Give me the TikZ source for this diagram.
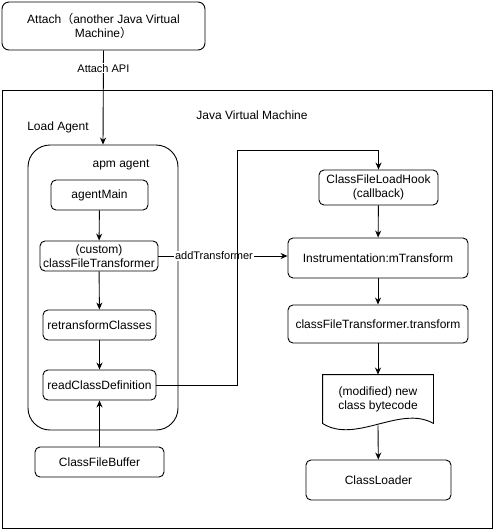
\documentclass[tikz,border=0pt]{standalone}
\usepackage{fontspec}
\setmainfont{Liberation Sans}
\newfontfamily\cjk{Noto Sans CJK SC}
\usetikzlibrary{arrows.meta}

\begin{document}
\begin{tikzpicture}[x=1pt, y=-1pt, line width=0.9pt, >={Stealth[length=7pt,width=6pt]},
	box/.style={draw, rounded corners=5pt, align=center, inner sep=1pt, font=\fontsize{12}{14}\selectfont},
	txt/.style={inner sep=1pt, align=center, font=\fontsize{12}{14}\selectfont},
	lbl/.style={fill=white, inner sep=1pt, font=\fontsize{11}{13}\selectfont}]
	\useasboundingbox (0,0) rectangle (494,530);
	% maquina que fa l'attach
	\node[box, rounded corners=7pt, minimum width=203pt, minimum height=48pt] (attach) at (103.5,26) {Attach{\cjk （}another Java Virtual\\Machine{\cjk ）}};
	% JVM
	\node[draw, sharp corners, minimum width=490pt, minimum height=438pt] (jvm) at (247,309) {};
	\node[txt] (jvmlbl) at (252,115) {Java Virtual Machine};
	\node[txt] (loadlbl) at (58,127) {Load Agent};
	% apm agent
	\node[draw, rounded corners=22pt, minimum width=150pt, minimum height=285pt] (agent) at (103,287.5) {};
	\node[txt] (agentlbl) at (121,165) {apm agent};
	\node[box, minimum width=97pt, minimum height=30pt] (main) at (99.5,195) {agentMain};
	\node[box, minimum width=118pt, minimum height=30pt] (cft) at (99,256) {(custom)\\classFileTransformer};
	\node[box, minimum width=113pt, minimum height=30pt] (retrans) at (99.5,325) {retransformClasses};
	\node[box, minimum width=113pt, minimum height=30pt] (rcd) at (99.5,385) {readClassDefinition};
	\node[box, minimum width=129pt, minimum height=30pt] (buffer) at (99.5,462) {ClassFileBuffer};
	% costat dret
	\node[box, minimum width=119pt, minimum height=35pt] (hook) at (378.5,187.5) {ClassFileLoadHook\\(callback)};
	\node[box, minimum width=180pt, minimum height=40pt] (instr) at (378,258) {Instrumentation:mTransform};
	\node[box, minimum width=180pt, minimum height=38pt] (transform) at (378,324) {classFileTransformer.transform};
	\node[txt, minimum width=110pt, minimum height=48pt] (bytecode) at (378,399) {(modified) new\\class bytecode};
	\draw (bytecode.north west) -- (bytecode.north east) -- (bytecode.south east)
		.. controls +(-33,-19) and +(33,21) .. (bytecode.south west) -- cycle;
	\node[box, minimum width=145pt, minimum height=40pt] (loader) at (378.5,480) {ClassLoader};
	% fletxes
	\draw[->] (attach.south) -- node[lbl, pos=0.19] {Attach API} (agent.north);
	\draw[->] (main) -- (cft);
	\draw[->] (cft) -- (retrans);
	\draw[->] (retrans) -- (rcd);
	\draw[->] (buffer) -- (rcd);
	\draw[->] (cft.east) -- node[lbl, pos=0.43] {addTransformer} (cft.east -| instr.west);
	\coordinate (bend) at (237,150);
	\draw[->] (rcd.east) -| (bend) -| (hook.north);
	\draw[->] (hook) -- (instr);
	\draw[->] (instr) -- (transform);
	\draw[->] (transform) -- (bytecode.north);
	\draw[->] ([yshift=-2pt]bytecode.south) -- (loader);
\end{tikzpicture}
\end{document}
